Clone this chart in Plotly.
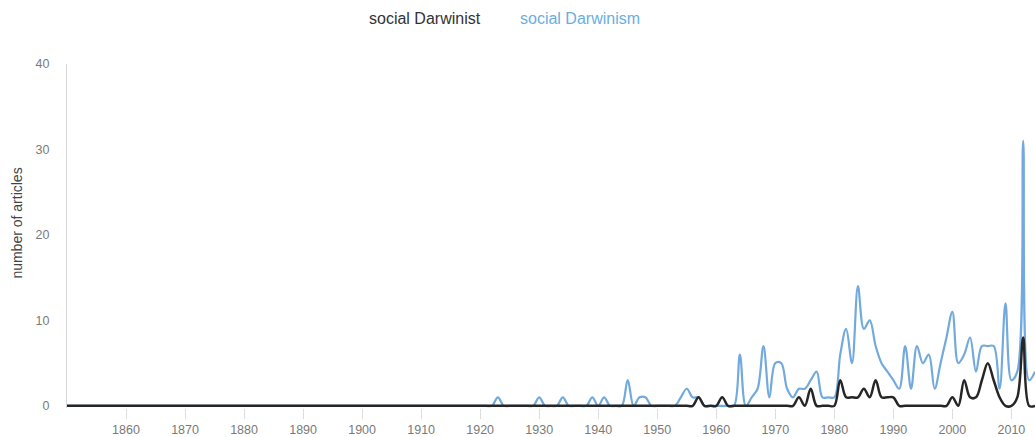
import plotly.graph_objects as go

years = list(range(1850, 2015))

# social Darwinist (black), 1850..2014
darwinist = (
    [0] * 70 +                                   # 1850-1919
    [0, 0, 0, 0, 0, 0, 0, 0, 0, 0] +             # 1920s
    [0, 0, 0, 0, 0, 0, 0, 0, 0, 0] +             # 1930s
    [0, 0, 0, 0, 0, 0, 0, 0, 0, 0] +             # 1940s
    [0, 0, 0, 0, 0, 0, 0, 1, 0, 0] +             # 1950s
    [0, 1, 0, 0, 0, 0, 0, 0, 0, 0] +             # 1960s
    [0, 0, 0, 0, 1, 0, 2, 0, 0, 0] +             # 1970s
    [0, 3, 1, 1, 1, 2, 1, 3, 1, 1] +             # 1980s
    [1, 0, 0, 0, 0, 0, 0, 0, 0, 0] +             # 1990s
    [1, 0, 3, 1, 1, 3, 5, 3, 1, 0] +             # 2000s
    [0, 1, 8, 0, 0]                              # 2010-2014
)

# social Darwinism (blue), 1850..2014
darwinism = (
    [0] * 70 +                                   # 1850-1919
    [0, 0, 0, 1, 0, 0, 0, 0, 0, 0] +             # 1920s
    [1, 0, 0, 0, 1, 0, 0, 0, 0, 1] +             # 1930s
    [0, 1, 0, 0, 0, 3, 0, 1, 1, 0] +             # 1940s
    [0, 0, 0, 0, 1, 2, 1, 1, 0, 0] +             # 1950s
    [0, 0, 0, 0, 6, 0, 1, 2, 7, 1] +             # 1960s
    [5, 5, 2, 1, 2, 2, 3, 4, 1, 1] +             # 1970s
    [1, 6, 9, 5, 14, 9, 10, 7, 5, 4] +           # 1980s
    [3, 2, 7, 2, 7, 5, 6, 2, 5, 8] +             # 1990s
    [11, 5, 6, 8, 4, 7, 7, 7, 2, 12] +           # 2000s
    [3, 4, 31, 3, 4]                             # 2010-2014
)

x_ticks = [1860, 1870, 1880, 1890, 1900, 1910, 1920, 1930, 1940, 1950,
           1960, 1970, 1980, 1990, 2000, 2010]
y_ticks = [0, 10, 20, 30, 40]

series_names = ["social Darwinist", "social Darwinism"]
blue = "#72aadd"
dark = "#262626"

fig = go.Figure()
fig.add_trace(go.Scatter(x=years, y=darwinism, mode="lines", name=series_names[1],
                         line=dict(color=blue, width=2.2, shape="spline", smoothing=1),
                         hoverinfo="x+y"))
fig.add_trace(go.Scatter(x=years, y=darwinist, mode="lines", name=series_names[0],
                         line=dict(color=dark, width=2.5, shape="spline", smoothing=1),
                         hoverinfo="x+y"))

font_family = "Liberation Sans, Arial, sans-serif"

fig.update_layout(
    width=1035, height=437,
    margin=dict(l=67, r=0, t=64, b=26),
    paper_bgcolor="white", plot_bgcolor="white",
    showlegend=False,
    font=dict(family=font_family),
    xaxis=dict(range=[1850, 2014], tickvals=x_ticks, ticktext=[str(v) for v in x_ticks],
               showgrid=False, zeroline=False, showline=False,
               ticks="outside", ticklen=10, tickcolor="#dddddd", tickwidth=1,
               tickfont=dict(size=12.5, color="#7a7a7a", family=font_family)),
    yaxis=dict(range=[-0.25, 40], tickvals=y_ticks, ticktext=[str(v) for v in y_ticks],
               showgrid=False, zeroline=False, showline=True, linecolor="#d8d8d8", linewidth=1,
               ticks="outside", ticklen=14, tickcolor="rgba(0,0,0,0)",
               tickfont=dict(size=12.5, color="#7a7a7a", family=font_family)),
    annotations=[
        dict(text=series_names[0], xref="paper", yref="paper", x=0.3698, y=1.1326,
             showarrow=False, xanchor="center", yanchor="middle",
             font=dict(size=16, color="#333333", family=font_family)),
        dict(text=series_names[1], xref="paper", yref="paper", x=0.530, y=1.1326,
             showarrow=False, xanchor="center", yanchor="middle",
             font=dict(size=16, color="#6aaee0", family=font_family)),
        dict(text="number of articles", xref="paper", yref="paper",
             x=-50 / 968, y=0.536, textangle=-90, showarrow=False,
             xanchor="center", yanchor="middle",
             font=dict(size=14, color="#444444", family=font_family)),
    ],
)

fig.write_html("out.html",
               config={"displayModeBar": False},
               post_script="document.body.style.margin='0px';document.body.style.overflow='hidden';")
